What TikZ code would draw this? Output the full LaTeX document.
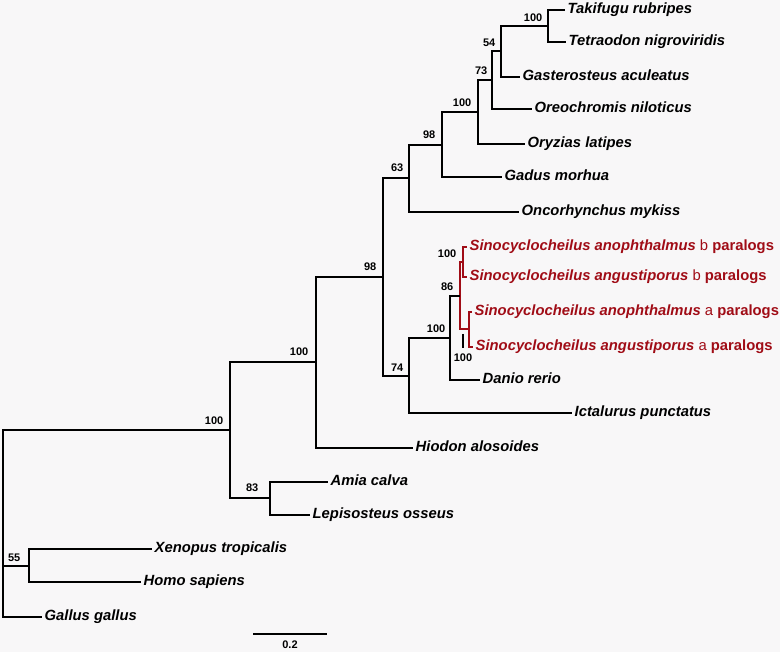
\documentclass[tikz,border=0pt]{standalone}
\usepackage{fontspec}
\setmainfont{Liberation Sans}
\usetikzlibrary{positioning}
\definecolor{paralog}{RGB}{160,12,22}
\definecolor{paper}{RGB}{248,247,248}
\newcommand{\paralogtag}[1]{{\upshape\mdseries #1} {\upshape paralogs}}
\tikzset{
        x=1pt, y=-1pt, % one unit per pixel, y downwards
        branch/.style={line width=1.7pt, black}, % tree edges
        red branch/.style={line width=1.7pt, paralog},
        leaf/.style={
                anchor=west,
                inner xsep=2.5pt, inner ysep=0pt,
                text height=10pt, text depth=3pt,
                font=\fontsize{14.8}{16}\selectfont\bfseries\itshape,
        },
        red leaf/.style={leaf, text=paralog},
        boot/.style={
                inner sep=0.5pt,
                font=\fontsize{11}{12}\selectfont\bfseries,
        },
}

\begin{document}
\begin{tikzpicture}
    \fill[paper] (0,0) rectangle (780,652);
    \useasboundingbox (0,0) rectangle (780,652);

    % inner nodes
    \coordinate (nTak) at (548,26);
    \coordinate (n54) at (501,51);
    \coordinate (n73) at (492,80);
    \coordinate (n100a) at (478,112);
    \coordinate (n98a) at (442,145);
    \coordinate (n63) at (409,178);
    \coordinate (nB) at (463,262);
    \coordinate (nA) at (469,329);
    \coordinate (n86) at (460,296);
    \coordinate (n100b) at (450,338);
    \coordinate (n74) at (409,376);
    \coordinate (n98b) at (383,277);
    \coordinate (n100c) at (316,362);
    \coordinate (n83) at (270,498);
    \coordinate (n100d) at (230,430);
    \coordinate (n55) at (29,566);
    \coordinate (root) at (3,523);

    % leaves
    \node [leaf] (tak) at (565,10) {Takifugu rubripes};
    \node [leaf] (tet) at (566,42) {Tetraodon nigroviridis};
    \node [leaf] (gas) at (520,77) {Gasterosteus aculeatus};
    \node [leaf] (ore) at (532,109) {Oreochromis niloticus};
    \node [leaf] (ory) at (525,144) {Oryzias latipes};
    \node [leaf] (gad) at (502,177) {Gadus morhua};
    \node [leaf] (onc) at (519,212) {Oncorhynchus mykiss};
    \node [red leaf] (sAb) at (467,247) {Sinocyclocheilus anophthalmus \paralogtag{b}};
    \node [red leaf] (sGb) at (467,277) {Sinocyclocheilus angustiporus \paralogtag{b}};
    \node [red leaf] (sAa) at (472,312) {Sinocyclocheilus anophthalmus \paralogtag{a}};
    \node [red leaf] (sGa) at (473,347) {Sinocyclocheilus angustiporus \paralogtag{a}};
    \node [leaf] (dan) at (480,380) {Danio rerio};
    \node [leaf] (ict) at (572,413) {Ictalurus punctatus};
    \node [leaf] (hio) at (413,448) {Hiodon alosoides};
    \node [leaf] (amia) at (328,482) {Amia calva};
    \node [leaf] (lep) at (310,515) {Lepisosteus osseus};
    \node [leaf] (xen) at (152,549) {Xenopus tropicalis};
    \node [leaf] (homo) at (141,582) {Homo sapiens};
    \node [leaf] (gal) at (42,617) {Gallus gallus};

    % edges
    \draw [branch] (nTak) |- (tak.west);
    \draw [branch] (nTak) |- (tet.west);
    \draw [branch] (n54) |- (nTak);
    \draw [branch] (n54) |- (gas.west);
    \draw [branch] (n73) |- (n54);
    \draw [branch] (n73) |- (ore.west);
    \draw [branch] (n100a) |- (n73);
    \draw [branch] (n100a) |- (ory.west);
    \draw [branch] (n98a) |- (n100a);
    \draw [branch] (n98a) |- (gad.west);
    \draw [branch] (n63) |- (n98a);
    \draw [branch] (n63) |- (onc.west);
    \draw [red branch] (nB) |- (sAb.west);
    \draw [red branch] (nB) |- (sGb.west);
    \draw [red branch] (nA) |- (sAa.west);
    \draw [red branch] (nA) |- (sGa.west);
    \draw [red branch] (n86) |- (nB);
    \draw [red branch] (n86) |- (nA);
    \draw [branch] (n100b) |- (n86);
    \draw [branch] (n100b) |- (dan.west);
    \draw [branch] (n74) |- (n100b);
    \draw [branch] (n74) |- (ict.west);
    \draw [branch] (n98b) |- (n63);
    \draw [branch] (n98b) |- (n74);
    \draw [branch] (n100c) |- (n98b);
    \draw [branch] (n100c) |- (hio.west);
    \draw [branch] (n83) |- (amia.west);
    \draw [branch] (n83) |- (lep.west);
    \draw [branch] (n100d) |- (n100c);
    \draw [branch] (n100d) |- (n83);
    \draw [branch] (n55) |- (xen.west);
    \draw [branch] (n55) |- (homo.west);
    \draw [branch] (root) |- (n100d);
    \draw [branch] (root) |- (n55);
    \draw [branch] (root) |- (gal.west);

    % bootstrap values
    \node [boot, above left=4pt and 5pt of nTak] (bTak) {100};
    \node [boot, above left=4pt and 5pt of n54] (b54) {54};
    \node [boot, above left=5pt and 4pt of n73] (b73) {73};
    \node [boot, above left=5pt and 6pt of n100a] (b100a) {100};
    \node [boot, above left=6pt and 6pt of n98a] (b98a) {98};
    \node [boot, above left=6pt and 5pt of n63] (b63) {63};
    \node [boot, above left=4pt and 6pt of nB] (bB) {100};
    \node [boot, above left=5pt and 6pt of n86] (b86) {86};
    \node [boot, above left=5pt and 4pt of n100b] (b100b) {100};
    \node [boot, above left=4pt and 5pt of n74] (b74) {74};
    \node [boot, above left=6pt and 6pt of n98b] (b98b) {98};
    \node [boot, above left=6pt and 7pt of n100c] (b100c) {100};
    \node [boot, above left=5pt and 6pt of n100d] (b100d) {100};
    \node [boot, above left=6pt and 11pt of n83] (b83) {83};
    \node [boot, above left=4pt and 8pt of n55] (b55) {55};

    % value of the a paralogs
    \coordinate (tickTop) at (463,334);
    \coordinate (tickBot) at (463,348);
    \draw [line width=1.3pt] (tickTop) -- (tickBot);
    \node [boot, below=5pt of tickBot] (bA) {100};

    % scale bar
    \coordinate (sbL) at (253,634);
    \coordinate (sbR) at (327,634);
    \coordinate (sbMid) at (290,634);
    \draw [branch] (sbL) -- (sbR);
    \node [boot, below=6pt of sbMid] (sbText) {0.2};
\end{tikzpicture}
\end{document}
